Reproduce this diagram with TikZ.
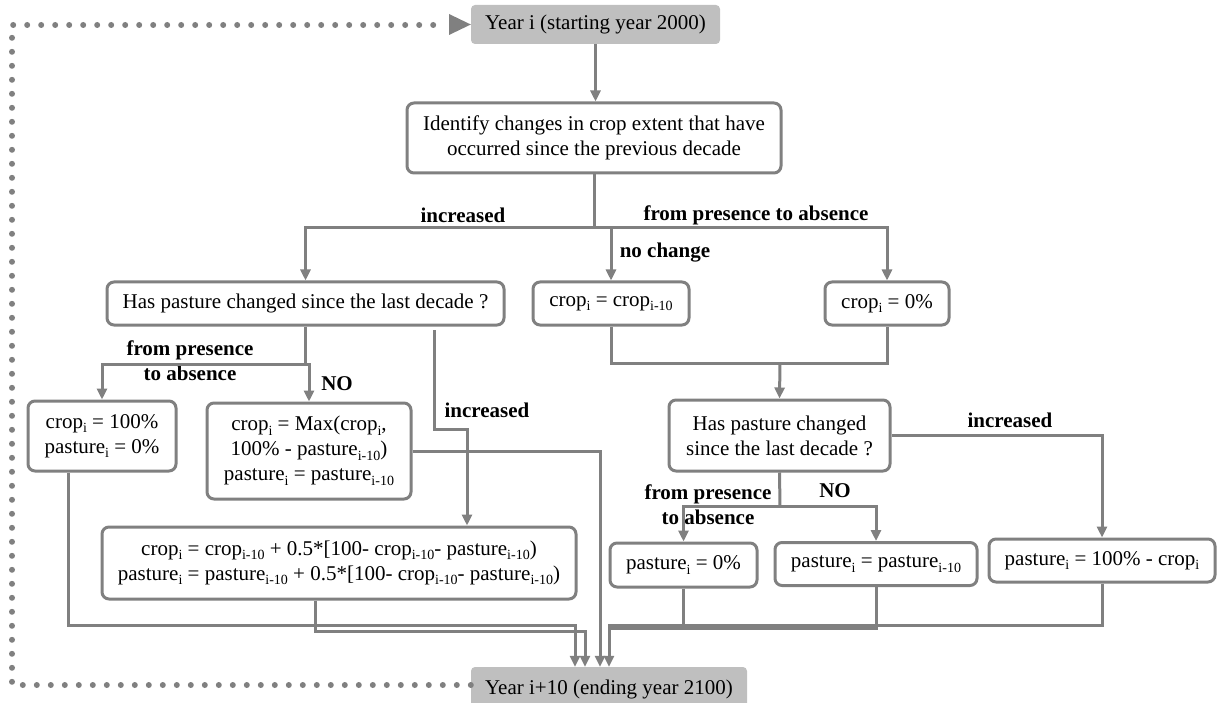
\documentclass[tikz,border=0pt]{standalone}
\usepackage{fontspec}
\setmainfont{Liberation Serif}
\usetikzlibrary{arrows.meta}
\definecolor{lg}{RGB}{128,128,128}
\definecolor{fillg}{RGB}{191,191,191}
\newcommand\sbs[1]{\raisebox{-4.5pt}{\fontsize{14}{14}\selectfont #1}}
\begin{document}
\begin{tikzpicture}[x=1pt,y=-1pt,
  box/.style={draw=lg, line width=3pt, rounded corners=7pt, fill=white, align=center, inner sep=0pt, font=\fontsize{21}{25}\selectfont},
  ybox/.style={fill=fillg, rounded corners=4pt, inner sep=0pt, font=\fontsize{21}{25}\selectfont},
  conn/.style={draw=lg, line width=3pt},
  arr/.style={conn, -{Triangle[length=11pt,width=10pt]}},
  lbl/.style={font=\fontsize{21}{25}\selectfont\bfseries, align=center, inner sep=0pt},
  dotline/.style={draw=lg, line width=6pt, line cap=round, dash pattern=on 0pt off 14pt}]
\useasboundingbox (0,0) rectangle (1218,703);

% nodes
\node[ybox, minimum width=249pt, minimum height=39pt] (top) at (595.5,24.5) {Year i (starting year 2000)};
\node[ybox, minimum width=276pt, minimum height=44pt] (bot) at (609,689) {Year i+10 (ending year 2100)};
\node[box, minimum width=374pt, minimum height=70pt] (ident) at (594,138) {Identify changes in crop extent that have\\occurred since the previous decade};
\node[box, minimum width=397pt, minimum height=43pt] (hp1) at (305.5,303.5) {Has pasture changed since the last decade ?};
\node[box, minimum width=156pt, minimum height=43pt] (c10) at (611,303.5) {crop\sbs{i} = crop\sbs{i-10}};
\node[box, minimum width=124pt, minimum height=43pt] (c0) at (887,303.5) {crop\sbs{i} = 0\%};
\node[box, minimum width=221pt, minimum height=71pt] (hp2) at (779.5,435.5) {Has pasture changed\\since the last decade ?};
\node[box, minimum width=148pt, minimum height=70pt] (c100) at (102,436) {crop\sbs{i} = 100\%\\pasture\sbs{i} = 0\%};
\node[box, minimum width=204pt, minimum height=96pt] (max) at (309,451) {crop\sbs{i} = Max(crop\sbs{i},\\100\% - pasture\sbs{i-10})\\pasture\sbs{i} = pasture\sbs{i-10}};
\node[box, minimum width=474pt, minimum height=72pt] (form) at (339,563) {crop\sbs{i} = crop\sbs{i-10} + 0.5*[100- crop\sbs{i-10}- pasture\sbs{i-10})\\pasture\sbs{i} = pasture\sbs{i-10} + 0.5*[100- crop\sbs{i-10}- pasture\sbs{i-10})};
\node[box, minimum width=147pt, minimum height=44pt] (p0) at (683.5,565) {pasture\sbs{i} = 0\%};
\node[box, minimum width=202pt, minimum height=43pt] (p10) at (876,564) {pasture\sbs{i} = pasture\sbs{i-10}};
\node[box, minimum width=226pt, minimum height=43pt] (p100) at (1102,560.5) {pasture\sbs{i} = 100\% - crop\sbs{i}};

% labels
\node[lbl] (l1) at (463,215) {increased};
\node[lbl] (l2) at (756,215) {from presence to absence};
\node[lbl] (l3) at (665,253) {no change};
\node[lbl] (l4) at (190,360.5) {from presence\\to absence};
\node[lbl] (l5) at (337,384) {NO};
\node[lbl] (l6) at (487,410) {increased};
\node[lbl] (l7) at (1010,420) {increased};
\node[lbl] (l8) at (708,504.5) {from presence\\to absence};
\node[lbl] (l9) at (835,491) {NO};

% coordinates
\coordinate (j1) at (594,228);
\coordinate (j2) at (780,363);
\coordinate (j3) at (305,364);
\coordinate (j4) at (780,506);
\coordinate (k0) at (434,330);
\coordinate (k1) at (434,429);
\coordinate (k2) at (467,429);
\coordinate (m1) at (68,625);
\coordinate (m2) at (315,631);
\coordinate (a1) at (575,0);
\coordinate (a2) at (585,0);
\coordinate (a3) at (600,0);
\coordinate (a4) at (609,0);
\coordinate (r1) at (609,625);
\coordinate (r2) at (609,628);

% connectors
\draw[arr] (top.south) -- (top.south |- ident.north);
\draw[conn] (ident.south) -- (j1);
\draw[arr] (j1) -| (hp1.north);
\draw[arr] (j1) -| (c10.north);
\draw[arr] (j1) -| (c0.north);
\draw[conn] (c10.south) |- (j2) -| (c0.south);
\draw[arr] (j2) -- (hp2.north);
\draw[conn] (hp1.south -| j3) -- (j3);
\draw[arr] (j3) -| (c100.north);
\draw[arr] (j3) -| (max.north);
\draw[arr] (k0) -- (k1) -- (k2) -- (k2 |- form.north);
\draw[arr] (hp2.east) -| (p100.north);
\draw[conn] (hp2.south) -- (j4);
\draw[arr] (j4) -| (p0.north);
\draw[arr] (j4) -| (p10.north);
% to bottom box
\draw[arr] (c100.south -| m1) -- (m1) -| (bot.north -| a1);
\draw[arr] (form.south -| m2) -- (m2) -| (bot.north -| a2);
\draw[arr] (max.east) -| (bot.north -| a3);
\draw[arr] (p100.south) |- (r1) -- (bot.north -| a4);
\draw[conn] (p10.south) |- (r2);
\draw[conn] (p0.south) -- (p0.south |- r1);

% dotted loop
\coordinate (d2) at (12,25);
\coordinate (d3) at (440,25);
\draw[dotline] ([yshift=4pt]bot.west) -| (d2) -- (d3);
\fill[lg] (449,14) -- (top.west) -- (449,35) -- cycle;
\end{tikzpicture}
\end{document}
